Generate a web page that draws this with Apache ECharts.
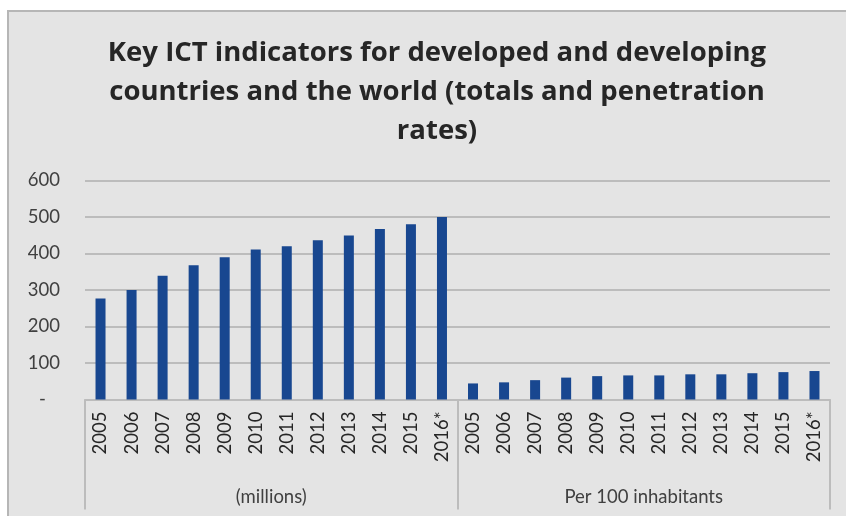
<!DOCTYPE html>
<html>
<head>
<meta charset="utf-8">
<style>
  html, body { margin: 0; padding: 0; background: #ffffff; }
  #chart { width: 846px; height: 516px; }
</style>
<script src="https://cdn.jsdelivr.net/npm/echarts@6/dist/echarts.min.js"></script>
</head>
<body>
<div id="chart"></div>
<script>
// Year labels shared by both groups
const years = ['2005', '2006', '2007', '2008', '2009', '2010', '2011', '2012', '2013', '2014', '2015', '2016*'];
// Group captions under the year labels
const groups = ['(millions)', 'Per 100 inhabitants'];
// Totals in millions
const millions = [277, 300, 339, 368, 390, 411, 420, 436, 449, 467, 480, 500];
// Penetration per 100 inhabitants
const per100 = [44, 47, 53, 60, 64, 66, 66, 69, 69, 72, 75, 78];
// Value axis ticks
const yTicks = [0, 100, 200, 300, 400, 500, 600];

const categories = years.concat(years);
const values = millions.concat(per100);

const FONT = 'Lato, "Open Sans", sans-serif';
const TITLE_FONT = '"Open Sans", Lato, sans-serif';
const GRID_GREY = '#bcbcbc';

const chart = echarts.init(document.getElementById('chart'), null, { renderer: 'canvas' });

chart.setOption({
  backgroundColor: '#ffffff',
  animation: false,
  title: {
    text: 'Key ICT indicators for developed and developing\ncountries and the world (totals and penetration\nrates)',
    left: 432,
    top: 29,
    textAlign: 'center',
    textStyle: {
      fontFamily: TITLE_FONT,
      fontWeight: 'bold',
      fontSize: 27.5,
      lineHeight: 39,
      color: '#262626'
    }
  },
  graphic: [{
    type: 'rect',
    z: -10,
    shape: { x: 8, y: 11, width: 860, height: 530 },
    style: { fill: '#e4e4e4', stroke: '#b6b6b6', lineWidth: 2 }
  }],
  grid: { left: 85, right: 16, top: 180.5, bottom: 116.5, containLabel: false },
  xAxis: [{
    type: 'category',
    data: categories,
    gridIndex: 0,
    boundaryGap: true,
    axisLine: { show: true, lineStyle: { color: GRID_GREY, width: 2 } },
    axisTick: { show: false },
    axisLabel: {
      interval: 0,
      rotate: 90,
      margin: 12,
      fontFamily: FONT,
      fontSize: 18.5,
      color: '#262626'
    }
  }, {
    type: 'category',
    data: groups,
    gridIndex: 0,
    position: 'bottom',
    boundaryGap: true,
    axisLine: { show: false },
    axisTick: { show: true, interval: 0, length: 110, lineStyle: { color: GRID_GREY, width: 2 } },
    axisLabel: {
      interval: 0,
      margin: 88,
      fontFamily: FONT,
      fontSize: 18.5,
      color: '#404040'
    }
  }],
  yAxis: {
    type: 'value',
    min: yTicks[0],
    max: yTicks[yTicks.length - 1],
    interval: yTicks[1] - yTicks[0],
    axisLine: { show: false },
    axisTick: { show: false },
    splitLine: { show: true, lineStyle: { color: GRID_GREY, width: 2 } },
    axisLabel: {
      margin: 25,
      fontFamily: FONT,
      fontSize: 18.5,
      color: '#404040',
      formatter: function (v) { return v === 0 ? '-   ' : String(v); }
    }
  },
  series: [{
    type: 'bar',
    xAxisIndex: 0,
    data: values,
    barWidth: 10,
    itemStyle: { color: '#184790' }
  }]
});
</script>
</body>
</html>
